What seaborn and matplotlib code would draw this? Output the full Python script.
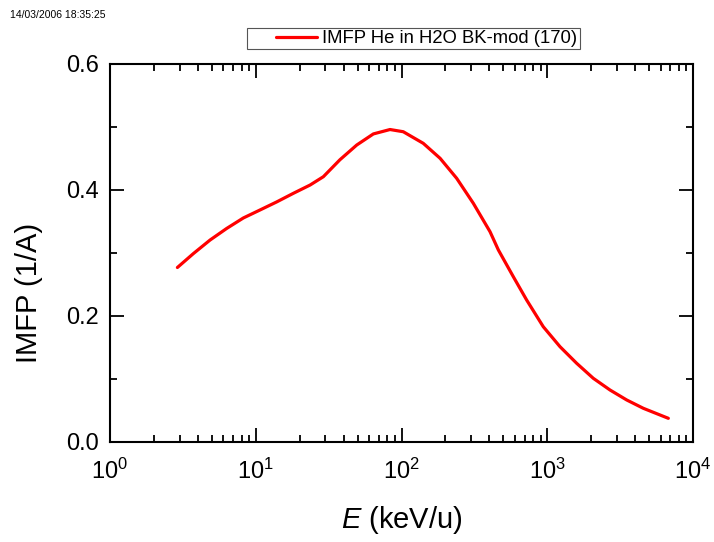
import matplotlib
matplotlib.use("Agg")
import matplotlib.pyplot as plt
import seaborn as sns
import pandas as pd
import numpy as np
from matplotlib.patches import Rectangle
from matplotlib.ticker import LogLocator, MultipleLocator, FixedLocator, NullFormatter

sns.set_theme(style="white")
plt.rcParams['font.family'] = ['Liberation Sans', 'DejaVu Sans']
plt.rcParams['mathtext.fontset'] = 'custom'
plt.rcParams['mathtext.rm'] = 'Liberation Sans'
plt.rcParams['mathtext.it'] = 'Liberation Sans:italic'
for k in ['text.color', 'axes.labelcolor', 'xtick.color', 'ytick.color']:
    plt.rcParams[k] = 'black'

energy = [2.90, 3.73, 4.86, 6.32, 8.22, 10.7, 13.9, 18.1, 23.6, 29.1,
          37.8, 49.3, 64.1, 83.4, 102.8, 141, 184, 239, 311, 405,
          462, 585, 722, 939, 1223, 1592, 2070, 2697, 3509, 4562, 5937, 6774]
imfp = [0.277, 0.299, 0.3206, 0.339, 0.3556, 0.3683, 0.381, 0.3947, 0.4079, 0.4211,
        0.448, 0.4714, 0.489, 0.496, 0.4925, 0.4741, 0.4503, 0.4186, 0.3789, 0.3338,
        0.3048, 0.2624, 0.2254, 0.1830, 0.1513, 0.1249, 0.1011, 0.0825, 0.0667, 0.0535, 0.0429, 0.0376]
series_label = "IMFP He in H2O BK-mod (170)"
yticks = [0.0, 0.2, 0.4, 0.6]

df = pd.DataFrame({"E": energy, "IMFP": imfp, "series": series_label})

fig = plt.figure(figsize=(7.14, 5.42), dpi=100)
ax = fig.add_axes([110 / 714, 100 / 542, 583 / 714, 378 / 542])

sns.lineplot(data=df, x="E", y="IMFP", hue="series", palette=["#ff0000"],
             linewidth=2.3, ax=ax, legend=True)
ax.set_xscale("log")
ax.set_xlim(1, 1e4)
ax.set_ylim(0, 0.6)

ax.yaxis.set_major_locator(FixedLocator(yticks))
ax.yaxis.set_minor_locator(MultipleLocator(0.1))
ax.set_yticklabels([f"{v:.1f}" for v in yticks])
ax.xaxis.set_major_locator(LogLocator(base=10, numticks=10))
ax.xaxis.set_minor_locator(LogLocator(base=10, subs=np.arange(2, 10), numticks=50))
ax.xaxis.set_minor_formatter(NullFormatter())

ax.tick_params(which="both", direction="in", top=True, right=True, bottom=True, left=True,
               color="black", width=1.3)
ax.tick_params(which="major", length=10, labelsize=17)
ax.tick_params(axis="x", which="major", pad=12)
ax.tick_params(axis="y", which="major", pad=8)
ax.tick_params(which="minor", length=5)
for s in ax.spines.values():
    s.set_color("black")
    s.set_linewidth(1.5)

ax.set_xlabel(r"$E$ (keV/u)", fontsize=21)
ax.xaxis.set_label_coords(0.5, -0.165)
ax.set_ylabel("IMFP (1/A)", fontsize=21)
ax.yaxis.set_label_coords(-0.115, 0.394)

leg = ax.legend(loc="center right", bbox_to_anchor=(577 / 714, 1 - 38.5 / 542),
                bbox_transform=fig.transFigure, fontsize=13.3, frameon=False,
                handlelength=2.2, handletextpad=0.27, borderpad=0.0, borderaxespad=0.0)
for line in leg.get_lines():
    line.set_linewidth(2.3)
fig.patches.append(Rectangle((247 / 714, 1 - 49 / 542), 333 / 714, 21 / 542,
                             transform=fig.transFigure, fill=False,
                             edgecolor="#555555", linewidth=0.8))

fig.text(0.014, 0.972, "14/03/2006 18:35:25", fontsize=7.5, ha="left", va="center")

fig.savefig("out.png", dpi=100, facecolor="white")
